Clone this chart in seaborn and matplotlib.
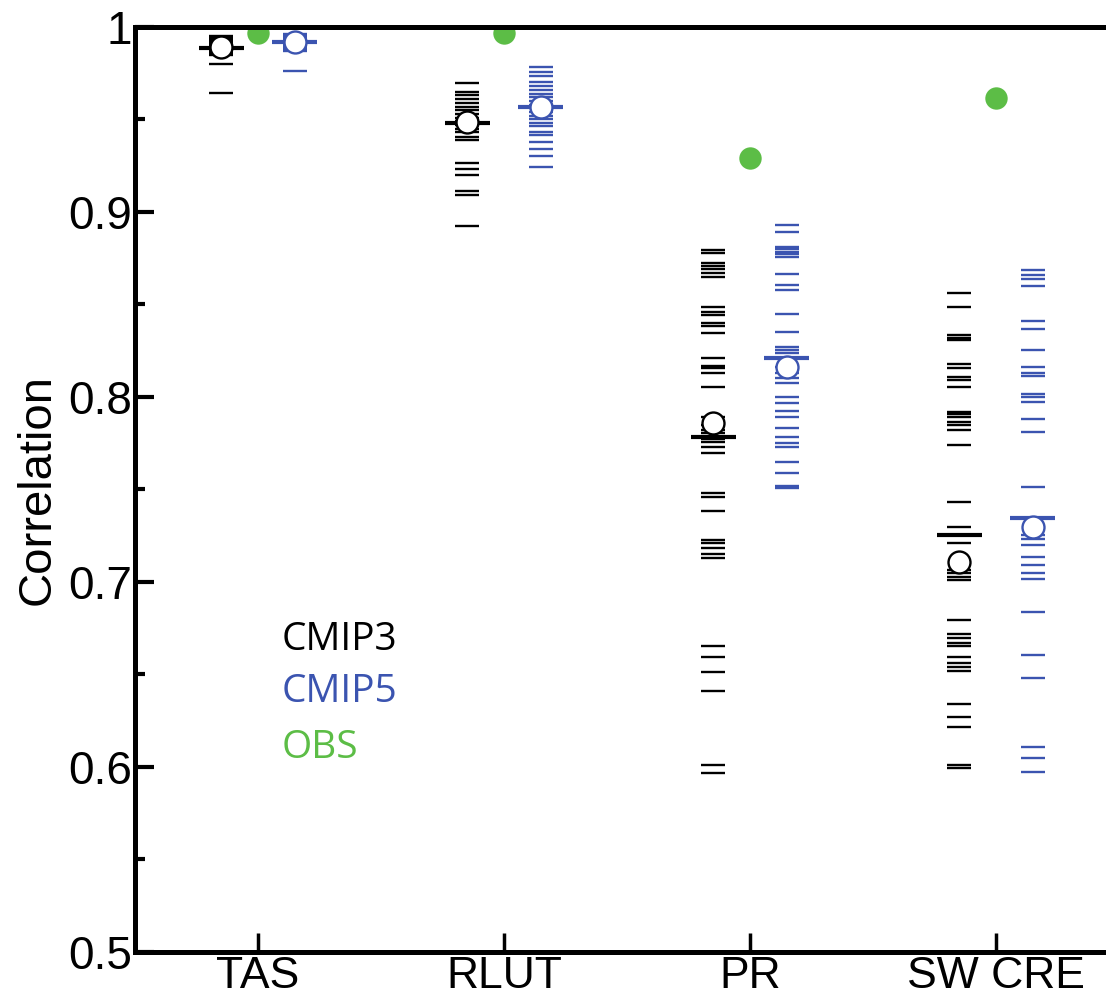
import matplotlib
matplotlib.use("Agg")
import pandas as pd
from matplotlib import pyplot as plt
from matplotlib.ticker import MultipleLocator, FixedLocator
import seaborn as sns

variables = ["TAS", "RLUT", "PR", "SW CRE"]

# correlaciones de cada modelo
cmip3_tas = [0.995, 0.994, 0.993, 0.992, 0.991, 0.990, 0.989, 0.988, 0.987, 0.986, 0.985, 0.9798, 0.9645]
cmip5_tas = [0.996, 0.995, 0.994, 0.993, 0.992, 0.991, 0.990, 0.989, 0.988, 0.987, 0.9762]
cmip3_rlut = [0.9696, 0.965, 0.963, 0.961, 0.959, 0.957, 0.955, 0.953, 0.951, 0.949, 0.947, 0.945,
              0.943, 0.9404, 0.9389, 0.9267, 0.9231, 0.920, 0.9115, 0.9092, 0.8926]
cmip5_rlut = [0.9782, 0.9759, 0.9735, 0.970, 0.968, 0.966, 0.964, 0.962, 0.960, 0.958, 0.956, 0.954,
              0.952, 0.950, 0.948, 0.9465, 0.943, 0.9415, 0.938, 0.9339, 0.9304, 0.9241]
cmip3_pr = [0.8795, 0.8777, 0.8726, 0.8708, 0.869, 0.8672, 0.865, 0.8485, 0.846, 0.8443, 0.840, 0.8384,
            0.8344, 0.821, 0.8168, 0.8155, 0.8128, 0.8056, 0.789, 0.785, 0.782, 0.7805, 0.7775, 0.7758,
            0.7731, 0.7696, 0.748, 0.7461, 0.7384, 0.7227, 0.7209, 0.7182, 0.7151, 0.7128, 0.6656,
            0.6596, 0.6512, 0.6412, 0.6011, 0.5966]
cmip5_pr = [0.893, 0.8894, 0.8813, 0.8798, 0.8786, 0.8771, 0.8755, 0.8665, 0.8605, 0.8578, 0.8449,
            0.8353, 0.8272, 0.8254, 0.8236, 0.8164, 0.8128, 0.8101, 0.8077, 0.7998, 0.7966, 0.7926,
            0.7894, 0.783, 0.7785, 0.775, 0.7731, 0.765, 0.7591, 0.7519, 0.7507]
cmip3_swcre = [0.856, 0.8485, 0.8335, 0.832, 0.8308, 0.8178, 0.8155, 0.8106, 0.8092, 0.8056, 0.792,
               0.7908, 0.7894, 0.7866, 0.7849, 0.7822, 0.774, 0.7434, 0.7299, 0.7209, 0.7065, 0.7047,
               0.7029, 0.7011, 0.6795, 0.6719, 0.6695, 0.6672, 0.6654, 0.6596, 0.6564, 0.6542, 0.652,
               0.6339, 0.6272, 0.6214, 0.601, 0.5995]
cmip5_swcre = [0.8686, 0.866, 0.8636, 0.8602, 0.8411, 0.8368, 0.8254, 0.8164, 0.8128, 0.8114, 0.8016,
               0.8002, 0.7971, 0.7881, 0.7812, 0.7515, 0.7254, 0.723, 0.720, 0.7137, 0.7092, 0.705,
               0.7018, 0.6836, 0.6603, 0.6479, 0.6106, 0.6047, 0.5973]

# media multimodelo (barra) y promedio de correlaciones (circulo)
cmip3_barra = [0.9885, 0.9479, 0.7782, 0.7254]
cmip5_barra = [0.9917, 0.9565, 0.8209, 0.7344]
cmip3_media = [0.9894, 0.9488, 0.7858, 0.711]
cmip5_media = [0.9917, 0.9569, 0.8164, 0.7299]
obs = [0.9966, 0.9970, 0.9292, 0.9616]

colores = {"CMIP3": "#000000", "CMIP5": "#3b54b0", "OBS": "#5cbd46"}
desplazamiento = {"CMIP3": -0.15, "CMIP5": 0.15, "OBS": 0.0}

modelos = {
    "CMIP3": [cmip3_tas, cmip3_rlut, cmip3_pr, cmip3_swcre],
    "CMIP5": [cmip5_tas, cmip5_rlut, cmip5_pr, cmip5_swcre],
}

filas = []
for grupo, series in modelos.items():
    for i, valores in enumerate(series):
        for v in valores:
            filas.append((variables[i], grupo, i + 1 + desplazamiento[grupo], v))
df = pd.DataFrame(filas, columns=["variable", "grupo", "pos", "valor"])

resumen = []
for i, var in enumerate(variables):
    resumen.append((var, "CMIP3", i + 1 + desplazamiento["CMIP3"], cmip3_barra[i], cmip3_media[i]))
    resumen.append((var, "CMIP5", i + 1 + desplazamiento["CMIP5"], cmip5_barra[i], cmip5_media[i]))
df_res = pd.DataFrame(resumen, columns=["variable", "grupo", "pos", "barra", "media"])
df_obs = pd.DataFrame({"variable": variables, "pos": [i + 1 for i in range(len(variables))], "valor": obs})

sns.set_style("ticks")
plt.rcParams["font.family"] = ["Liberation Sans", "DejaVu Sans"]
for clave in ["text.color", "axes.edgecolor", "axes.labelcolor", "xtick.color", "ytick.color"]:
    plt.rcParams[clave] = "black"

fig = plt.figure(figsize=(11.06, 10), dpi=100)
ax = fig.add_axes([0.122, 0.048, 0.878, 0.925])

sns.scatterplot(data=df, x="pos", y="valor", hue="grupo", palette=colores, marker="_",
                s=300, linewidth=1.7, legend=False, ax=ax, zorder=3)
sns.scatterplot(data=df_res, x="pos", y="barra", hue="grupo", palette=colores, marker="_",
                s=1050, linewidth=3.0, legend=False, ax=ax, zorder=4)
for grupo in ["CMIP3", "CMIP5"]:
    sub = df_res[df_res["grupo"] == grupo]
    sns.scatterplot(data=sub, x="pos", y="media", color="white", edgecolor=colores[grupo],
                    s=250, linewidth=1.7, legend=False, ax=ax, zorder=5)
sns.scatterplot(data=df_obs, x="pos", y="valor", color=colores["OBS"], s=260, linewidth=0,
                legend=False, ax=ax, zorder=2)

ax.set_xlim(0.5, 4.447)
ax.set_ylim(0.5, 1.0)
ax.xaxis.set_major_locator(FixedLocator([1, 2, 3, 4]))
ax.set_xticklabels(variables)
ax.yaxis.set_major_locator(MultipleLocator(0.1))
ax.yaxis.set_minor_locator(MultipleLocator(0.05))
ax.yaxis.set_major_formatter(plt.FuncFormatter(lambda v, p: f"{v:g}"))

ax.tick_params(axis="y", which="major", direction="in", length=14, width=3, labelsize=33, pad=2)
ax.tick_params(axis="y", which="minor", direction="in", length=7, width=3)
ax.tick_params(axis="x", which="major", direction="in", length=14, width=2.5, labelsize=32, pad=3)
for lado in ["left", "top", "bottom"]:
    ax.spines[lado].set_linewidth(3.6)
ax.spines["right"].set_visible(False)

ax.set_xlabel("")
ax.set_ylabel("Correlation", fontsize=34, labelpad=6)

for texto, y in [("CMIP3", 0.337), ("CMIP5", 0.281), ("OBS", 0.2205)]:
    ax.text(0.151, y, texto, transform=ax.transAxes, color=colores[texto],
            fontsize=28, family=["Open Sans", "DejaVu Sans"], va="center", ha="left")

plt.savefig("out.png", dpi=100)
plt.close()
